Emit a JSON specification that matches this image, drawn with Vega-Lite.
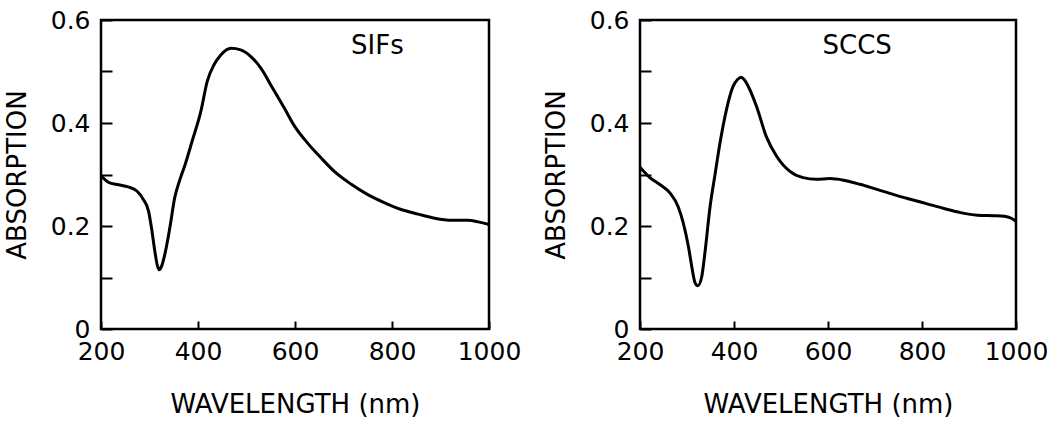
{
  "$schema": "https://vega.github.io/schema/vega-lite/v6.json",
  "background": "white",
  "padding": {"left": 2, "top": 6, "right": 5, "bottom": 5},
  "bounds": "flush",
  "spacing": 151,
  "datasets": {
    "sifs": [
      {"wavelength": 200, "absorption": 0.298},
      {"wavelength": 215, "absorption": 0.285},
      {"wavelength": 236, "absorption": 0.280},
      {"wavelength": 256, "absorption": 0.276},
      {"wavelength": 274, "absorption": 0.268},
      {"wavelength": 287, "absorption": 0.252},
      {"wavelength": 298, "absorption": 0.229},
      {"wavelength": 304, "absorption": 0.197},
      {"wavelength": 311, "absorption": 0.151},
      {"wavelength": 316, "absorption": 0.124},
      {"wavelength": 320, "absorption": 0.115},
      {"wavelength": 325, "absorption": 0.122},
      {"wavelength": 333, "absorption": 0.151},
      {"wavelength": 342, "absorption": 0.197},
      {"wavelength": 352, "absorption": 0.255},
      {"wavelength": 363, "absorption": 0.291},
      {"wavelength": 373, "absorption": 0.318},
      {"wavelength": 388, "absorption": 0.365},
      {"wavelength": 406, "absorption": 0.423},
      {"wavelength": 419, "absorption": 0.481},
      {"wavelength": 433, "absorption": 0.513},
      {"wavelength": 447, "absorption": 0.532},
      {"wavelength": 468, "absorption": 0.545},
      {"wavelength": 488, "absorption": 0.542},
      {"wavelength": 509, "absorption": 0.529},
      {"wavelength": 530, "absorption": 0.506},
      {"wavelength": 550, "absorption": 0.474},
      {"wavelength": 578, "absorption": 0.429},
      {"wavelength": 599, "absorption": 0.394},
      {"wavelength": 626, "absorption": 0.361},
      {"wavelength": 654, "absorption": 0.332},
      {"wavelength": 681, "absorption": 0.306},
      {"wavelength": 716, "absorption": 0.281},
      {"wavelength": 750, "absorption": 0.261},
      {"wavelength": 785, "absorption": 0.245},
      {"wavelength": 819, "absorption": 0.232},
      {"wavelength": 854, "absorption": 0.223},
      {"wavelength": 888, "absorption": 0.215},
      {"wavelength": 923, "absorption": 0.211},
      {"wavelength": 957, "absorption": 0.211},
      {"wavelength": 978, "absorption": 0.208},
      {"wavelength": 1000, "absorption": 0.203}
    ],
    "sccs": [
      {"wavelength": 200, "absorption": 0.314},
      {"wavelength": 221, "absorption": 0.294},
      {"wavelength": 243, "absorption": 0.280},
      {"wavelength": 264, "absorption": 0.264},
      {"wavelength": 281, "absorption": 0.238},
      {"wavelength": 292, "absorption": 0.206},
      {"wavelength": 303, "absorption": 0.160},
      {"wavelength": 310, "absorption": 0.122},
      {"wavelength": 317, "absorption": 0.090},
      {"wavelength": 323, "absorption": 0.084},
      {"wavelength": 331, "absorption": 0.100},
      {"wavelength": 338, "absorption": 0.147},
      {"wavelength": 349, "absorption": 0.237},
      {"wavelength": 360, "absorption": 0.302},
      {"wavelength": 370, "absorption": 0.360},
      {"wavelength": 384, "absorption": 0.426},
      {"wavelength": 398, "absorption": 0.471},
      {"wavelength": 408, "absorption": 0.485},
      {"wavelength": 415, "absorption": 0.489},
      {"wavelength": 422, "absorption": 0.484},
      {"wavelength": 431, "absorption": 0.470},
      {"wavelength": 448, "absorption": 0.432},
      {"wavelength": 469, "absorption": 0.373},
      {"wavelength": 491, "absorption": 0.335},
      {"wavelength": 519, "absorption": 0.306},
      {"wavelength": 547, "absorption": 0.294},
      {"wavelength": 575, "absorption": 0.291},
      {"wavelength": 604, "absorption": 0.292},
      {"wavelength": 633, "absorption": 0.289},
      {"wavelength": 668, "absorption": 0.281},
      {"wavelength": 704, "absorption": 0.271},
      {"wavelength": 740, "absorption": 0.261},
      {"wavelength": 775, "absorption": 0.252},
      {"wavelength": 811, "absorption": 0.243},
      {"wavelength": 847, "absorption": 0.234},
      {"wavelength": 882, "absorption": 0.226},
      {"wavelength": 918, "absorption": 0.221},
      {"wavelength": 953, "absorption": 0.220},
      {"wavelength": 975, "absorption": 0.219},
      {"wavelength": 990, "absorption": 0.215},
      {"wavelength": 1000, "absorption": 0.209}
    ],
    "sifsLabel": [{"wavelength": 770, "absorption": 0.55, "label": "SIFs"}],
    "sccsLabel": [{"wavelength": 662, "absorption": 0.55, "label": "SCCS"}]
  },
  "hconcat": [
    {
      "width": 388,
      "height": 309,
      "encoding": {
        "x": {"field": "wavelength", "type": "quantitative", "title": "WAVELENGTH (nm)",
              "scale": {"domain": [200, 1000], "nice": false, "zero": false},
              "axis": {"values": [200, 400, 600, 800, 1000], "format": "d"}},
        "y": {"field": "absorption", "type": "quantitative", "title": "ABSORPTION",
              "scale": {"domain": [0, 0.6], "nice": false},
              "axis": {"values": [0, 0.1, 0.2, 0.3, 0.4, 0.5, 0.6], "format": ".1~f",
                       "labelExpr": "round(datum.value*10)%2==0 ? datum.label : ''"}}
      },
      "layer": [
        {"data": {"name": "sifs"},
         "mark": {"type": "line", "color": "black", "strokeWidth": 3, "interpolate": "monotone"}},
        {"data": {"name": "sifsLabel"},
         "mark": {"type": "text", "font": "DejaVu Sans", "fontSize": 26, "color": "black"},
         "encoding": {"text": {"field": "label"}}}
      ]
    },
    {
      "width": 376,
      "height": 309,
      "encoding": {
        "x": {"field": "wavelength", "type": "quantitative", "title": "WAVELENGTH (nm)",
              "scale": {"domain": [200, 1000], "nice": false, "zero": false},
              "axis": {"values": [200, 400, 600, 800, 1000], "format": "d"}},
        "y": {"field": "absorption", "type": "quantitative", "title": "ABSORPTION",
              "scale": {"domain": [0, 0.6], "nice": false},
              "axis": {"values": [0, 0.1, 0.2, 0.3, 0.4, 0.5, 0.6], "format": ".1~f",
                       "labelExpr": "round(datum.value*10)%2==0 ? datum.label : ''"}}
      },
      "layer": [
        {"data": {"name": "sccs"},
         "mark": {"type": "line", "color": "black", "strokeWidth": 3, "interpolate": "monotone"}},
        {"data": {"name": "sccsLabel"},
         "mark": {"type": "text", "font": "DejaVu Sans", "fontSize": 26, "color": "black"},
         "encoding": {"text": {"field": "label"}}}
      ]
    }
  ],
  "config": {
    "view": {"stroke": "black", "strokeWidth": 2.5},
    "axis": {
      "grid": false,
      "domain": false,
      "tickColor": "black",
      "tickWidth": 2,
      "labelColor": "black",
      "labelFont": "DejaVu Sans",
      "labelFontSize": 25,
      "labelOverlap": false,
      "labelFlush": false,
      "titleColor": "black",
      "titleFont": "DejaVu Sans",
      "titleFontSize": 26,
      "titleFontWeight": "normal"
    },
    "axisX": {"tickSize": -8, "labelPadding": 18, "titlePadding": 27},
    "axisY": {"tickSize": -11, "labelPadding": 22, "titlePadding": 20}
  }
}
